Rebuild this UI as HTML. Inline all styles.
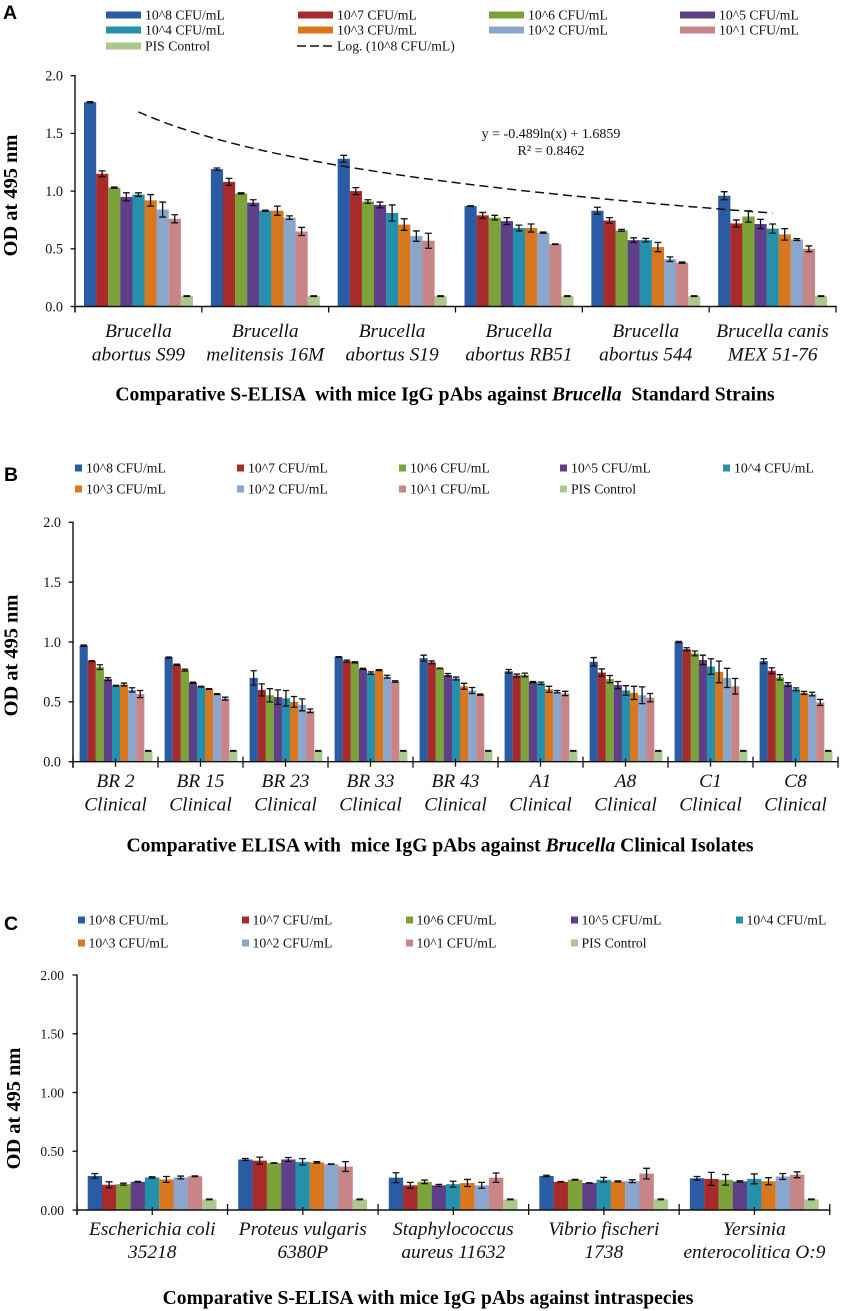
<!DOCTYPE html>
<html lang="en">
<head>
<meta charset="utf-8">
<title>Comparative ELISA of Brucella antibodies</title>
<style>
  html, body { margin: 0; padding: 0; background: #fff; }
  body { width: 844px; height: 1311px; overflow: hidden; }
  svg { display: block; font-family: "Liberation Serif", serif; filter: blur(0.35px); }
  text { fill: #111; }
  .panel-letter { font-family: "Liberation Sans", sans-serif; font-weight: 700; font-size: 19.5px; fill: #000; }
  .chart-title { font-weight: 700; font-size: 19.6px; text-anchor: middle; fill: #000; }
  .y-title { font-weight: 700; font-size: 20.4px; text-anchor: middle; fill: #000; }
</style>
</head>
<body>
<svg id="figure" xmlns="http://www.w3.org/2000/svg" width="844" height="1311" viewBox="0 0 844 1311">
  <rect width="844" height="1311" fill="#fff"/>

  <text class="panel-letter" x="3" y="19">A</text>
  <text class="panel-letter" x="4" y="481">B</text>
  <text class="panel-letter" x="4" y="930">C</text>

  <text class="y-title" transform="translate(17 195.5) rotate(-90)">OD at 495 nm</text>
  <text class="y-title" transform="translate(17.5 655.5) rotate(-90)">OD at 495 nm</text>
  <text class="y-title" transform="translate(20 1108.5) rotate(-90)">OD at 495 nm</text>

  <text class="chart-title" x="445" y="400.5" xml:space="preserve">Comparative S-ELISA  with mice IgG pAbs against <tspan font-style="italic">Brucella</tspan>  Standard Strains</text>
  <text class="chart-title" x="440" y="851.5" xml:space="preserve">Comparative ELISA with  mice IgG pAbs against <tspan font-style="italic">Brucella</tspan> Clinical Isolates</text>
  <text class="chart-title" x="428" y="1304">Comparative S-ELISA with mice IgG pAbs against intraspecies</text>

  <text x="551" y="138" font-size="14" text-anchor="middle">y = -0.489ln(x) + 1.6859</text>
  <text x="551" y="155" font-size="14" text-anchor="middle">R² = 0.8462</text>
</svg>

<script>
const seriesNames = ['10^8 CFU/mL', '10^7 CFU/mL', '10^6 CFU/mL', '10^5 CFU/mL', '10^4 CFU/mL', '10^3 CFU/mL', '10^2 CFU/mL', '10^1 CFU/mL', 'PIS Control'];
const seriesColors = ['#2a5ca3', '#a82b2c', '#7ba33a', '#5f4088', '#2590ab', '#d9771f', '#8aa6cc', '#c78587', '#adc88e'];

const panelACategories = [['Brucella', 'abortus S99'], ['Brucella', 'melitensis 16M'], ['Brucella', 'abortus S19'], ['Brucella', 'abortus RB51'], ['Brucella', 'abortus 544'], ['Brucella canis', 'MEX 51-76']];
const panelATicks = ['0.0', '0.5', '1.0', '1.5', '2.0'];
const panelAMeans = [
  [1.77, 1.15, 1.03, 0.95, 0.97, 0.92, 0.84, 0.76, 0.09],
  [1.19, 1.08, 0.98, 0.90, 0.83, 0.83, 0.77, 0.65, 0.09],
  [1.28, 1.00, 0.91, 0.88, 0.81, 0.71, 0.61, 0.57, 0.09],
  [0.87, 0.79, 0.77, 0.74, 0.68, 0.68, 0.64, 0.54, 0.09],
  [0.83, 0.745, 0.66, 0.575, 0.575, 0.515, 0.41, 0.38, 0.09],
  [0.96, 0.72, 0.78, 0.715, 0.675, 0.625, 0.58, 0.50, 0.09]
];
const panelAErrors = [
  [0.005, 0.025, 0.005, 0.035, 0.015, 0.05, 0.065, 0.035, 0.003],
  [0.01, 0.03, 0.005, 0.025, 0.005, 0.04, 0.015, 0.035, 0.003],
  [0.03, 0.03, 0.015, 0.025, 0.07, 0.05, 0.045, 0.065, 0.003],
  [0.003, 0.025, 0.02, 0.03, 0.025, 0.035, 0.005, 0.003, 0.003],
  [0.03, 0.025, 0.008, 0.02, 0.015, 0.04, 0.02, 0.005, 0.003],
  [0.035, 0.03, 0.05, 0.04, 0.04, 0.05, 0.008, 0.025, 0.003]
];
const trendSlope = -0.489;
const trendIntercept = 1.6859;

const panelBCategories = [['BR 2', 'Clinical'], ['BR 15', 'Clinical'], ['BR 23', 'Clinical'], ['BR 33', 'Clinical'], ['BR 43', 'Clinical'], ['A1', 'Clinical'], ['A8', 'Clinical'], ['C1', 'Clinical'], ['C8', 'Clinical']];
const panelBTicks = ['0.0', '0.5', '1.0', '1.5', '2.0'];
const panelBMeans = [
  [0.97, 0.84, 0.79, 0.69, 0.635, 0.645, 0.60, 0.565, 0.09],
  [0.87, 0.81, 0.765, 0.66, 0.627, 0.607, 0.565, 0.527, 0.09],
  [0.70, 0.60, 0.555, 0.54, 0.53, 0.50, 0.475, 0.425, 0.09],
  [0.875, 0.84, 0.83, 0.775, 0.74, 0.765, 0.71, 0.67, 0.09],
  [0.865, 0.83, 0.78, 0.725, 0.695, 0.63, 0.595, 0.56, 0.09],
  [0.755, 0.72, 0.725, 0.665, 0.655, 0.605, 0.585, 0.57, 0.09],
  [0.835, 0.745, 0.69, 0.64, 0.595, 0.575, 0.555, 0.535, 0.09],
  [1.00, 0.94, 0.905, 0.85, 0.795, 0.75, 0.70, 0.63, 0.09],
  [0.84, 0.76, 0.705, 0.645, 0.605, 0.575, 0.565, 0.495, 0.09]
];
const panelBErrors = [
  [0.005, 0.003, 0.02, 0.012, 0.003, 0.012, 0.018, 0.03, 0.003],
  [0.005, 0.005, 0.008, 0.005, 0.003, 0.003, 0.003, 0.012, 0.003],
  [0.06, 0.05, 0.055, 0.06, 0.065, 0.045, 0.05, 0.015, 0.003],
  [0.003, 0.008, 0.005, 0.005, 0.01, 0.004, 0.012, 0.006, 0.003],
  [0.025, 0.012, 0.002, 0.012, 0.012, 0.025, 0.025, 0.005, 0.003],
  [0.015, 0.012, 0.015, 0.005, 0.01, 0.025, 0.01, 0.018, 0.003],
  [0.035, 0.03, 0.03, 0.03, 0.04, 0.055, 0.07, 0.035, 0.003],
  [0.005, 0.012, 0.02, 0.04, 0.065, 0.09, 0.08, 0.065, 0.003],
  [0.02, 0.025, 0.022, 0.015, 0.012, 0.012, 0.015, 0.025, 0.003]
];

const panelCCategories = [['Escherichia coli', '35218'], ['Proteus vulgaris', '6380P'], ['Staphylococcus', 'aureus 11632'], ['Vibrio fischeri', '1738'], ['Yersinia', 'enterocolitica O:9']];
const panelCTicks = ['0.00', '0.50', '1.00', '1.50', '2.00'];
const panelCMeans = [
  [0.29, 0.215, 0.22, 0.24, 0.277, 0.26, 0.277, 0.287, 0.09],
  [0.43, 0.42, 0.40, 0.43, 0.41, 0.405, 0.39, 0.37, 0.09],
  [0.275, 0.21, 0.24, 0.21, 0.22, 0.23, 0.21, 0.275, 0.09],
  [0.29, 0.24, 0.257, 0.23, 0.257, 0.243, 0.245, 0.31, 0.09],
  [0.27, 0.265, 0.257, 0.243, 0.265, 0.245, 0.285, 0.30, 0.09]
];
const panelCErrors = [
  [0.02, 0.025, 0.008, 0.003, 0.006, 0.025, 0.012, 0.003, 0.003],
  [0.008, 0.03, 0.002, 0.017, 0.027, 0.006, 0.002, 0.042, 0.003],
  [0.042, 0.025, 0.015, 0.008, 0.025, 0.03, 0.025, 0.04, 0.003],
  [0.006, 0.002, 0.003, 0.002, 0.02, 0.005, 0.012, 0.045, 0.003],
  [0.015, 0.055, 0.045, 0.006, 0.042, 0.03, 0.025, 0.025, 0.003]
];

const svg = document.getElementById('figure');
const NS = 'http://www.w3.org/2000/svg';

function make(tag, attrs, parent) {
  const el = document.createElementNS(NS, tag);
  for (const key in attrs) el.setAttribute(key, attrs[key]);
  parent.appendChild(el);
  return el;
}

function slug(text) {
  return text.toLowerCase().replace(/[^a-z0-9]+/g, '-').replace(/^-|-$/g, '');
}

function drawLegend(prefix, slots, swatchW, swatchH, textGap) {
  const group = make('g', {}, svg);
  
  
  seriesNames.forEach((name, i) => {
    const s = slots[i];
    const swatch = make('rect', { x: s[0], y: s[1] - swatchH / 2, width: swatchW, height: swatchH, fill: seriesColors[i] }, group);
    
    
    const label = make('text', { x: s[0] + swatchW + textGap, y: s[1] + 4.6, 'font-size': 13.7 }, group);
    label.textContent = name;
    
    
  });
  return group;
}

function drawPanel(opts) {
  const prefix = opts.prefix;
  const group = make('g', {}, svg);
  
  

  const nCats = opts.categories.length;
  const yOf = v => opts.y0 + (opts.y2 - opts.y0) * (v / 2);
  const bandW = (opts.xEnd - opts.x0) / nCats;
  const catX = c => opts.x0 + bandW * c;

  opts.means.forEach((row, c) => {
    row.forEach((value, s) => {
      const x = catX(c) + opts.barOffset + s * opts.barW;
      const bar = make('rect', { x: x, y: yOf(value), width: opts.barW + 0.1, height: opts.y0 - yOf(value), fill: seriesColors[s] }, group);
      
      
    });
  });

  opts.means.forEach((row, c) => {
    row.forEach((value, s) => {
      const cx = catX(c) + opts.barOffset + (s + 0.5) * opts.barW;
      const hi = yOf(value + opts.errors[c][s]);
      const lo = yOf(value - opts.errors[c][s]);
      const d = 'M' + (cx - opts.cap) + ' ' + hi + 'H' + (cx + opts.cap) + 'M' + cx + ' ' + hi + 'V' + lo + 'M' + (cx - opts.cap) + ' ' + lo + 'H' + (cx + opts.cap);
      const err = make('path', { d: d, fill: 'none', stroke: '#111', 'stroke-width': 1.3 }, group);
      
      
    });
  });

  const yAxis = make('line', { x1: opts.x0, x2: opts.x0, y1: yOf(2), y2: opts.y0 + opts.boundaryBelow, stroke: '#111', 'stroke-width': 1.4 }, group);
  
  
  const xAxis = make('line', { x1: opts.x0, x2: opts.xEnd + 0.7, y1: opts.y0, y2: opts.y0, stroke: '#111', 'stroke-width': 1.4 }, group);
  
  

  opts.ticks.forEach((tick, i) => {
    const y = yOf(i * 0.5);
    const mark = make('line', { x1: opts.x0 - 4.5, x2: opts.x0 + 0.7, y1: y, y2: y, stroke: '#111', 'stroke-width': 1.3 }, group);
    
    
    const label = make('text', { x: opts.x0 - opts.tickGap, y: y + 4.8, 'font-size': opts.tickSize, 'text-anchor': 'end' }, group);
    label.textContent = tick;
    
    
  });

  for (let c = 0; c <= nCats; c++) {
    const mark = make('line', { x1: catX(c), x2: catX(c), y1: opts.y0 - opts.boundaryAbove, y2: opts.y0 + opts.boundaryBelow, stroke: '#111', 'stroke-width': 1.3 }, group);
    
    
  }

  opts.categories.forEach((lines, c) => {
    const cx = catX(c) + bandW / 2;
    if (opts.centerTick) {
      const mark = make('line', { x1: cx, x2: cx, y1: opts.y0 - 3, y2: opts.y0 + 5, stroke: '#111', 'stroke-width': 1.3 }, group);
      
      
    }
    lines.forEach((line, l) => {
      const label = make('text', { x: cx, y: opts.labelY + l * opts.labelLeading, 'font-size': opts.labelSize, 'font-style': 'italic', 'text-anchor': 'middle' }, group);
      label.textContent = line;
      
      
    });
  });

  return { catX: catX, yOf: yOf, bandW: bandW, group: group };
}

/* Panel A */
const a = drawPanel({
  prefix: 'panel-a', categories: panelACategories, means: panelAMeans, errors: panelAErrors, ticks: panelATicks,
  x0: 75, xEnd: 836, y0: 306.5, y2: 75.7, barOffset: 9, barW: 12.1, cap: 3.4,
  tickGap: 12, tickSize: 14.2, boundaryAbove: 0, boundaryBelow: 6, centerTick: false,
  labelY: 337, labelLeading: 23.5, labelSize: 19.4
});
(function drawTrend() {
  let d = '';
  for (let x = 1; x <= 6.001; x += 0.1) {
    const px = a.catX(x - 0.5);
    const py = a.yOf(trendSlope * Math.log(x) + trendIntercept);
    d += (d ? 'L' : 'M') + px.toFixed(1) + ' ' + py.toFixed(1);
  }
  const trend = make('path', { d: d, fill: 'none', stroke: '#111', 'stroke-width': 1.5, 'stroke-dasharray': '9 5' }, svg);
  
  
})();
const legendA = drawLegend('panel-a', [[106, 15], [298, 15], [489, 15], [680, 15], [106, 30], [298, 30], [489, 30], [680, 30], [106, 46]], 35, 7, 4);
const legendLine = make('line', { x1: 297, x2: 333, y1: 46, y2: 46, stroke: '#111', 'stroke-width': 1.5, 'stroke-dasharray': '9 4' }, legendA);


const legendLineLabel = make('text', { x: 337, y: 50.6, 'font-size': 13.7 }, legendA);
legendLineLabel.textContent = 'Log. (10^8 CFU/mL)';



/* Panel B */
drawPanel({
  prefix: 'panel-b', categories: panelBCategories, means: panelBMeans, errors: panelBErrors, ticks: panelBTicks,
  x0: 73, xEnd: 838, y0: 761.7, y2: 522.3, barOffset: 6.6, barW: 8.08, cap: 3.2,
  tickGap: 12, tickSize: 14.2, boundaryAbove: 5, boundaryBelow: 6, centerTick: true,
  labelY: 787, labelLeading: 23.7, labelSize: 19.4
});
drawLegend('panel-b', [[75, 468], [237, 468], [399, 468], [560, 468], [723, 468], [75, 489], [237, 489], [399, 489], [560, 489]], 7, 7, 4);

/* Panel C */
drawPanel({
  prefix: 'panel-c', categories: panelCCategories, means: panelCMeans, errors: panelCErrors, ticks: panelCTicks,
  x0: 77, xEnd: 829.7, y0: 1210, y2: 975, barOffset: 10.7, barW: 14.3, cap: 3.4,
  tickGap: 13, tickSize: 13.5, boundaryAbove: 6, boundaryBelow: 5, centerTick: true,
  labelY: 1235, labelLeading: 23, labelSize: 19.4
});
drawLegend('panel-c', [[78, 920], [242, 920], [406, 920], [571, 920], [736, 920], [78, 943], [242, 943], [406, 943], [571, 943]], 7, 7, 3.5);
</script>
</body>
</html>
